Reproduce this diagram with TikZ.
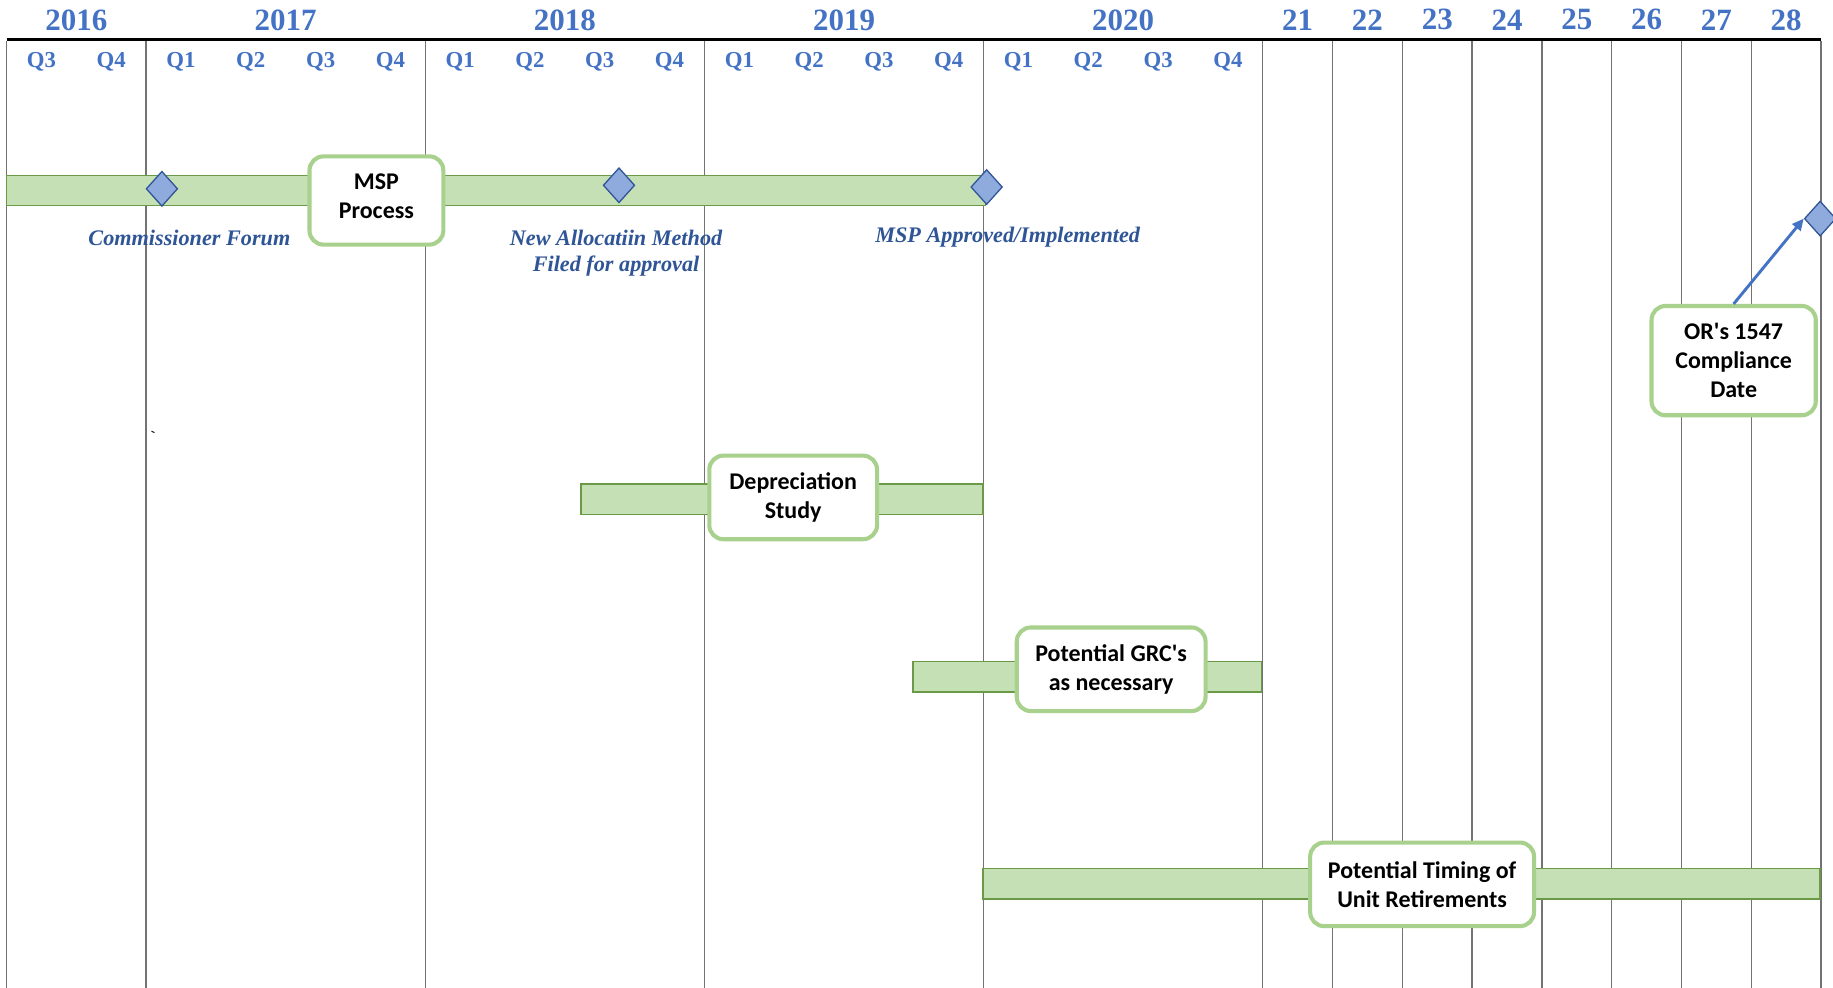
\documentclass[tikz,border=0pt]{standalone}
\usepackage{fontspec}
\setmainfont{Liberation Serif}
\newfontfamily\boxfont{Carlito}
\usetikzlibrary{shapes.geometric,arrows.meta}
\definecolor{yearblue}{HTML}{4472C4}
\definecolor{labblue}{HTML}{2F5597}
\definecolor{barfill}{HTML}{C5E0B4}
\definecolor{bardraw}{HTML}{6A9A45}
\definecolor{boxdraw}{HTML}{A9D18E}
\definecolor{diafill}{HTML}{8FAADC}
\definecolor{diadraw}{HTML}{2F5597}
\tikzset{
  yearlab/.style={font=\fontsize{26.5}{30}\selectfont\bfseries, text=yearblue, inner sep=0pt},
  qlab/.style={font=\fontsize{19.5}{22}\selectfont\bfseries, text=yearblue, inner sep=0pt},
  gridline/.style={draw=black!55, line width=1.2pt},
  topline/.style={draw=black, line width=2.5pt},
  bar/.style={draw=bardraw, fill=barfill, line width=1.2pt},
  milestone/.style={diamond, draw=diadraw, fill=diafill, line width=1.1pt, minimum width=27pt, minimum height=30pt, inner sep=0pt},
  taskbox/.style={draw=boxdraw, fill=white, line width=3.5pt, rounded corners=12pt, font=\boxfont\fontsize{20.5}{25}\selectfont\bfseries, align=center, inner sep=0pt},
  mlabel/.style={font=\fontsize{19}{22}\selectfont\bfseries\itshape, text=labblue, align=center, inner sep=0pt},
  pointer/.style={draw=yearblue, line width=2.5pt, -{Triangle[length=10pt,width=9pt]}}
}
\begin{document}
\begin{tikzpicture}[x=1pt,y=-1pt]
\useasboundingbox (0,0) rectangle (1568,845);
\fill[white] (0,0) rectangle (1568,845);
\def\xo{5.6}
\def\qw{59.7}
% grid
\foreach \k in {0,2,6,10,14,18,19,20,21,22,23,24,25,26}{
  \draw[gridline] ({\xo+\k*\qw},35) -- ({\xo+\k*\qw},845);
}
\draw[topline] (\xo,34) -- ({\xo+26*\qw},34);
% years
\node[yearlab] (y2016) at ({\xo+1*\qw},17) {2016};
\node[yearlab] (y2017) at ({\xo+4*\qw},17) {2017};
\node[yearlab] (y2018) at ({\xo+8*\qw},17) {2018};
\node[yearlab] (y2019) at ({\xo+12*\qw},17) {2019};
\node[yearlab] (y2020) at ({\xo+16*\qw},17) {2020};
\foreach \j/\t in {0/21,1/22,2/23,3/24,4/25,5/26,6/27,7/28}{
  \node[yearlab] (yy\t) at ({\xo+(18.5+\j)*\qw},17) {\t};
}
% quarters
\foreach \k/\t in {0/Q3,1/Q4,2/Q1,3/Q2,4/Q3,5/Q4,6/Q1,7/Q2,8/Q3,9/Q4,10/Q1,11/Q2,12/Q3,13/Q4,14/Q1,15/Q2,16/Q3,17/Q4}{
  \node[qlab] (q\k) at ({\xo+(\k+0.5)*\qw},53) {\t};
}
% bars
\draw[bar] (\xo,150) rectangle (843,176);
\draw[bar] (497,414) rectangle (841,440);
\draw[bar] (781,566) rectangle (1079,592);
\draw[bar] (841,743) rectangle (1557,769);
% milestones
\node[milestone] (d1) at (138.5,161.5) {};
\node[milestone] (d2) at (529.5,158.5) {};
\node[milestone] (d3) at (844,160) {};
\node[milestone] (d4) at (1557,187) {};
% boxes
\node[taskbox, minimum width=114.5pt, minimum height=75.5pt, text depth=8pt] (msp) at (322,171.5) {MSP\\Process};
\node[taskbox, minimum width=143.5pt, minimum height=71.5pt] (dep) at (678.5,425.5) {Depreciation\\Study};
\node[taskbox, minimum width=161.5pt, minimum height=71.5pt] (grc) at (950.5,572.5) {Potential GRC's\\as necessary};
\node[taskbox, minimum width=191.5pt, minimum height=71.5pt] (ret) at (1216.5,756.5) {Potential Timing of\\Unit Retirements};
\node[taskbox, minimum width=140.5pt, minimum height=93.5pt] (orb) at (1483,308.5) {OR's 1547\\Compliance\\Date};
% labels
\node[mlabel] (lcf) at (162,203.5) {Commissioner Forum};
\node[mlabel] (lna) at (527,216.5) {New Allocatiin Method\\Filed for approval};
\node[mlabel] (lma) at (862,203) {MSP Approved/Implemented};
\node[inner sep=0pt, font=\ttfamily\fontsize{14}{14}\selectfont] (tick) at (131,373) {`};
% arrow
\draw[pointer] (orb.north) -- (d4.west);
\end{tikzpicture}
\end{document}
